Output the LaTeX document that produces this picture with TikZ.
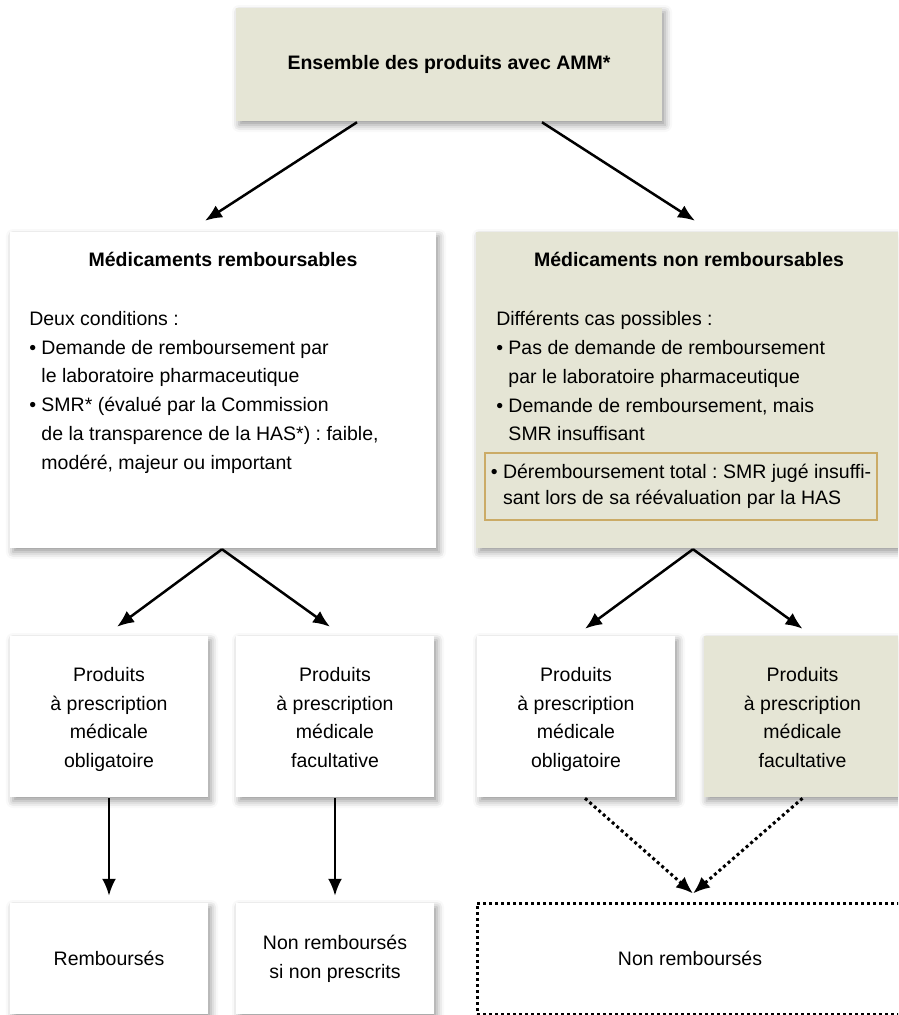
\documentclass[tikz,border=0pt]{standalone}
\usepackage{fontspec}
\setmainfont{Liberation Sans}
\usetikzlibrary{arrows.meta,shadows.blur}
\definecolor{beige}{RGB}{229,229,213}
\definecolor{gold}{RGB}{203,171,102}
\newcommand{\puce}{\textbullet\ }
\newcommand{\suite}{\phantom{\textbullet\ }}
\newcommand{\haut}{\rule{0pt}{20pt}}
\frenchspacing

\begin{document}
\begin{tikzpicture}[x=1pt, y=-1pt, line width=2.5pt, font=\fontsize{19.5}{28.8}\selectfont,
  box/.style={rectangle, inner sep=0pt, minimum width=198, minimum height=161, align=center, fill=white,
    blur shadow={shadow xshift=3pt, shadow yshift=-4pt, shadow blur radius=7pt, shadow opacity=40}},
  tinted/.style={box, fill=beige},
  flow/.style={-{Latex[length=17pt, width=14pt]}},
  dotflow/.style={flow, dash pattern=on 3pt off 3pt, line width=3pt}]
  \useasboundingbox (0,0) rectangle (898,1015);
  \clip (0,0) rectangle (898,1015);
  % Define boxes
  \node[tinted, minimum width=426, minimum height=113, font=\fontsize{19.5}{28.8}\selectfont\bfseries] at (449,64.5) (amm) {Ensemble des produits avec AMM*};
  \node[box, minimum width=426, minimum height=316] at (223,390) (remb) {};
  \node[tinted, minimum width=424, minimum height=316] at (688,390) (nonremb) {};

  \node[inner sep=0pt, font=\fontsize{19.5}{28.8}\selectfont\bfseries] at (223,259) (rembtitle) {Médicaments remboursables};
  \node[inner sep=0pt, anchor=north west, align=left] at (28,310) (rembtext) {Deux conditions :\\
    \puce Demande de remboursement par\\
    \suite le laboratoire pharmaceutique\\
    \puce SMR* (évalué par la Commission\\
    \suite de la transparence de la HAS*) : faible,\\
    \suite modéré, majeur ou important};

  \node[inner sep=0pt, font=\fontsize{19.5}{28.8}\selectfont\bfseries] at (689,259) (nonrembtitle) {Médicaments non remboursables};
  \node[inner sep=0pt, anchor=north west, align=left] at (495,310) (nonrembtext) {Différents cas possibles :\\
    \puce Pas de demande de remboursement\\
    \suite par le laboratoire pharmaceutique\\
    \puce Demande de remboursement, mais\\
    \suite SMR insuffisant};
  \node[draw=gold, fill=beige, inner sep=0pt, minimum width=392, minimum height=67, align=left, font=\fontsize{19.5}{26.5}\selectfont] at (681,486.5) (derem) {\puce Déremboursement total : SMR jugé insuffi-\\
    \suite sant lors de sa réévaluation par la HAS};

  \node[box] at (109,716.5) (pmo1) {\haut Produits\\à prescription\\médicale\\obligatoire};
  \node[box] at (335,716.5) (pmf1) {\haut Produits\\à prescription\\médicale\\facultative\vphantom{g}};
  \node[box] at (576,716.5) (pmo2) {\haut Produits\\à prescription\\médicale\\obligatoire};
  \node[tinted] at (802.5,716.5) (pmf2) {\haut Produits\\à prescription\\médicale\\facultative\vphantom{g}};

  \node[box, minimum height=111] at (109,958.5) (rembourses) {Remboursés};
  \node[box, minimum height=111] at (335,958.5) (nonpresc) {Non remboursés\\si non prescrits};
  \node[draw, dash pattern=on 3pt off 3pt, line width=3pt, inner sep=0pt, minimum width=426, minimum height=111] at (690,958.5) (nonrembt) {Non remboursés};

  % Draw arrows between boxes
  \draw[flow] ([xshift=-92pt]amm.south) -- ([xshift=-18pt, yshift=10pt]remb.north);
  \draw[flow] ([xshift=93pt]amm.south) -- ([xshift=7pt, yshift=10pt]nonremb.north);
  \draw[flow] ([xshift=-1pt]remb.south) -- ([xshift=8pt, yshift=8pt]pmo1.north);
  \draw[flow] ([xshift=-1pt]remb.south) -- ([xshift=-5pt, yshift=8pt]pmf1.north);
  \draw[flow] ([xshift=5pt]nonremb.south) -- ([xshift=9pt, yshift=6pt]pmo2.north);
  \draw[flow] ([xshift=5pt]nonremb.south) -- ([yshift=6pt]pmf2.north);
  \draw[flow] (pmo1.south) -- ([yshift=6pt]rembourses.north);
  \draw[flow] (pmf1.south) -- ([yshift=6pt]nonpresc.north);
  \draw[dotflow] ([xshift=9pt]pmo2.south) -- ([xshift=3pt, yshift=8pt]nonrembt.north);
  \draw[dotflow] (pmf2.south) -- ([xshift=3pt, yshift=8pt]nonrembt.north);
\end{tikzpicture}
\end{document}
